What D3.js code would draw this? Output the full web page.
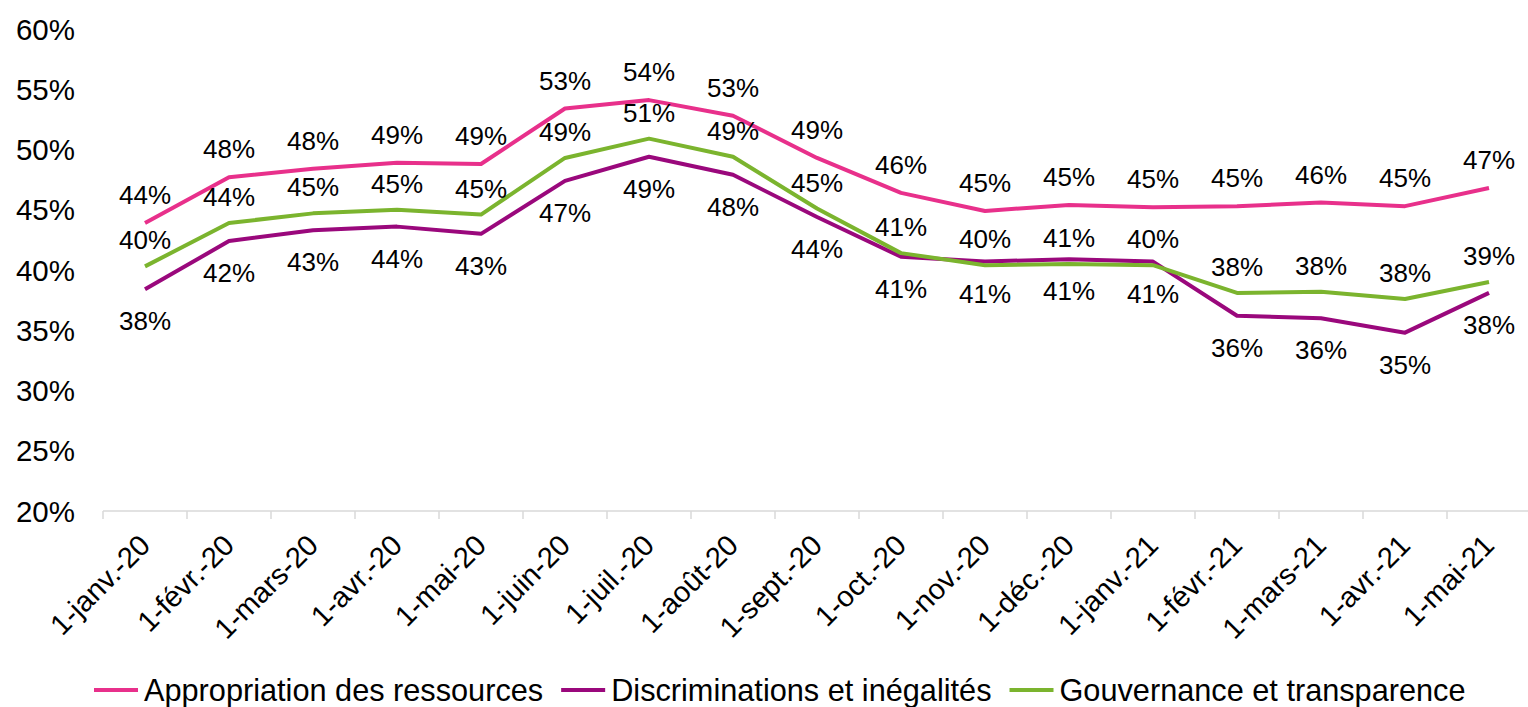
<!DOCTYPE html>
<html>
<head>
<meta charset="utf-8">
<script src="https://cdn.jsdelivr.net/npm/d3@7/dist/d3.min.js"></script>
<style>
  html, body { margin: 0; padding: 0; background: #fff; }
  svg { display: block; font-family: "Liberation Sans", Arial, sans-serif; }
</style>
</head>
<body>
<svg id="chart" width="1528" height="707"></svg>
<script>
const categories = ["1-janv.-20","1-févr.-20","1-mars-20","1-avr.-20","1-mai-20","1-juin-20","1-juil.-20","1-août-20","1-sept.-20","1-oct.-20","1-nov.-20","1-déc.-20","1-janv.-21","1-févr.-21","1-mars-21","1-avr.-21","1-mai-21"];
const seriesNames = ["Appropriation des ressources","Discriminations et inégalités","Gouvernance et transparence"];
const appropriation = [0.439,0.477,0.484,0.489,0.488,0.534,0.541,0.528,0.493,0.464,0.449,0.454,0.452,0.453,0.456,0.453,0.468];
const discriminations = [0.384,0.424,0.433,0.436,0.430,0.474,0.494,0.479,0.444,0.411,0.407,0.409,0.407,0.362,0.360,0.348,0.381];
const gouvernance = [0.403,0.439,0.447,0.450,0.446,0.493,0.509,0.494,0.451,0.414,0.404,0.405,0.404,0.381,0.382,0.376,0.390];
const yTicks = [0.20,0.25,0.30,0.35,0.40,0.45,0.50,0.55,0.60];

const colors = ["#E8308B","#9A087C","#7BB42E"];
const labelOffsets = [-28, 32, -26];

const svg = d3.select("#chart");
const x = d3.scaleBand().domain(categories).range([103, 1531]).padding(0);
const y = d3.scaleLinear().domain([0.2, 0.6]).range([511, 29]);
const fmt = d3.format(".0%");

// Y tick labels
svg.append("g").selectAll("text").data(yTicks).join("text")
  .attr("x", 75).attr("y", d => y(d))
  .attr("text-anchor", "end").attr("dominant-baseline", "central")
  .attr("font-size", 29.5).attr("fill", "#000")
  .text(fmt);

// X axis
const xAxis = svg.append("g").attr("transform", "translate(0,511)");
xAxis.append("line").attr("x1", 103).attr("x2", 1531).attr("y1", 0).attr("y2", 0)
  .attr("stroke", "#D9D9D9").attr("stroke-width", 1.5);
const tickPos = categories.map(c => x(c)).concat([x(categories[categories.length-1]) + x.bandwidth()]);
xAxis.selectAll("line.tick").data(tickPos).join("line").attr("class","tick")
  .attr("x1", d => d).attr("x2", d => d).attr("y1", 0).attr("y2", 8)
  .attr("stroke", "#D9D9D9").attr("stroke-width", 1.5);
svg.append("g").selectAll("text").data(categories).join("text")
  .attr("transform", d => `translate(${x(d) + x.bandwidth()/2 + 7},547) rotate(-45)`)
  .attr("text-anchor", "end").attr("font-size", 29).attr("fill", "#000")
  .text(d => d);

// Lines
const allSeries = [appropriation, discriminations, gouvernance];
const line = d3.line().x((d, i) => x(categories[i]) + x.bandwidth()/2).y(d => y(d));
const drawOrder = [0, 1, 2];
drawOrder.forEach(s => {
  svg.append("path").datum(allSeries[s])
    .attr("d", line).attr("fill", "none")
    .attr("stroke", colors[s]).attr("stroke-width", 4)
    .attr("stroke-linejoin", "round");
});

// Data labels
drawOrder.forEach(s => {
  svg.append("g").selectAll("text").data(allSeries[s]).join("text")
    .attr("x", (d, i) => x(categories[i]) + x.bandwidth()/2)
    .attr("y", d => y(d) + labelOffsets[s])
    .attr("text-anchor", "middle").attr("dominant-baseline", "central")
    .attr("font-size", 26).attr("fill", "#000")
    .text(fmt);
});

// Legend
const legend = svg.append("g").attr("transform", "translate(0,690)");
let cx = 94;
seriesNames.forEach((name, s) => {
  const g = legend.append("g");
  g.append("line").attr("x1", cx).attr("x2", cx + 44).attr("y1", 0).attr("y2", 0)
    .attr("stroke", colors[s]).attr("stroke-width", 4);
  const t = g.append("text").attr("x", cx + 50).attr("y", 0)
    .attr("dominant-baseline", "central").attr("font-size", 30.7).attr("fill", "#000")
    .text(name);
  cx = cx + 50 + t.node().getComputedTextLength() + 18;
});
</script>
</body>
</html>
